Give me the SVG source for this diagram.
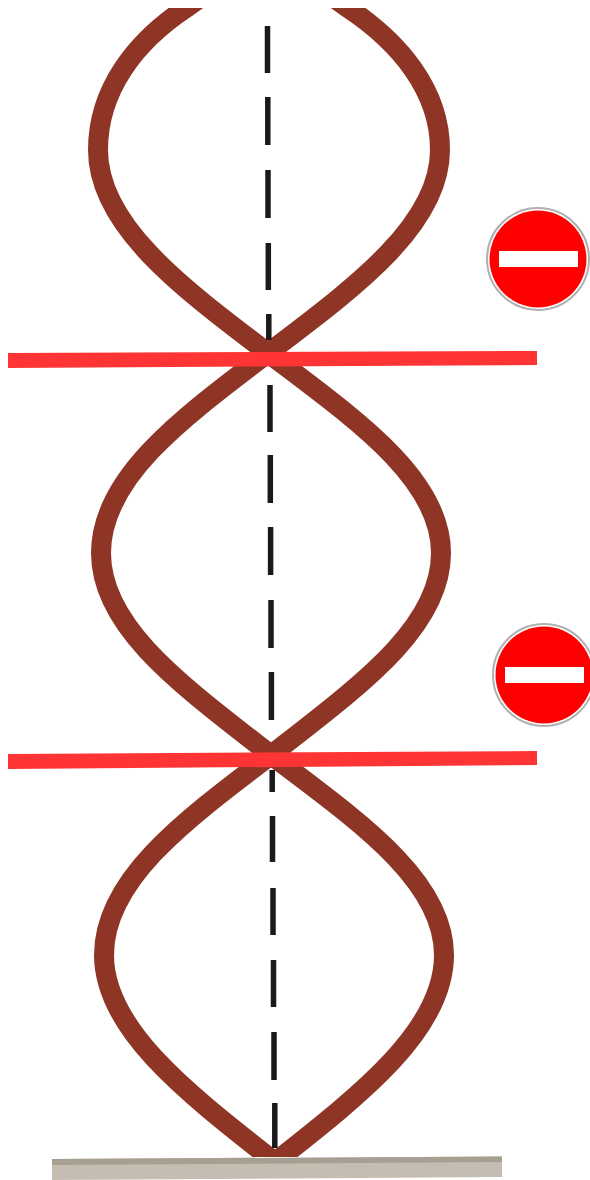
<svg xmlns="http://www.w3.org/2000/svg" width="590" height="1180" viewBox="0 0 590 1180">
<style>
.strand{fill:none;stroke:#8e3526;stroke-width:20;stroke-linejoin:miter}
.dash{fill:none;stroke:#1a1a1a;stroke-width:5.500}
.bar{fill:#ff3535}
.disc{fill:#fe0000}
.rim{fill:#fff;stroke:#b0b0b0;stroke-width:2}
</style>
<defs><clipPath id="c"><rect x="0" y="8" width="590" height="1149"/></clipPath></defs>
<rect width="590" height="1180" fill="#fff"/>
<g id="ground"><path d="M52 1159L502 1156.500V1177L52 1180Z" fill="#c6bdb2"/><path d="M52 1159L502 1156.500V1162L52 1165Z" fill="#a89f93"/></g>
<g id="strands" clip-path="url(#c)">
<path class="strand" d="M200 -2L186 8C135 42 98 90 98 150C98 224 178 285 268 353C358 285 440 224 440 150C440 90 399 42 348 8L334 -2"/>
<path class="strand" d="M268 353C178 421 101 479 101 553C101 627 180 684 271 755C362 684 441 627 441 553C441 479 358 421 268 353"/>
<path class="strand" d="M271 755C181 823 104 881 104 955C104 1029 186 1092 275 1162C364 1092 444 1029 444 955C444 881 361 823 271 755"/>
</g>
<g id="axis">
<path class="dash" d="M267.500 26V73M267.800 97V145M268 170V218M268.300 243V290M268.800 314V340M270 385V432M270.300 455V503M270.600 527V575M271 600V648M271.400 672V720M272.200 770V792M272.500 816V862M273 888V935M273.500 960V1007M274 1032V1080M274.800 1103V1148"/>
</g>
<g id="bars">
<path class="bar" d="M8 353L537 351V365L8 368Z"/>
<path class="bar" d="M8 754L537 751V765L8 769Z"/>
</g>
<g id="sign-1"><circle class="rim" cx="538" cy="259" r="51"/><circle class="disc" cx="538" cy="259" r="48.500"/><rect x="499" y="251" width="79" height="16" fill="#fff"/></g>
<g id="sign-2"><circle class="rim" cx="544" cy="675" r="51"/><circle class="disc" cx="544" cy="675" r="48.500"/><rect x="505" y="667" width="79" height="16" fill="#fff"/></g>
</svg>
